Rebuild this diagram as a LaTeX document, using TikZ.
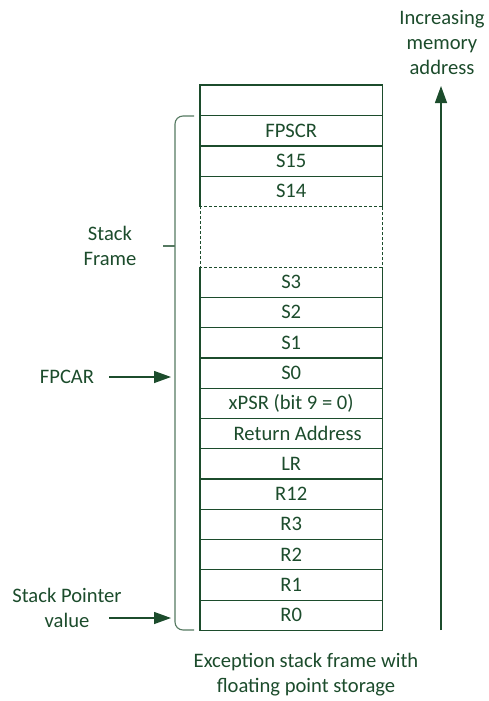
\documentclass[tikz,border=0pt]{standalone}
\usepackage{fontspec}
\setmainfont{Carlito}
\usetikzlibrary{arrows.meta}
\definecolor{dg}{RGB}{28,76,44}
\begin{document}
\begin{tikzpicture}[x=1pt,y=-1pt,
  every node/.style={text=dg,font=\fontsize{20.6}{25}\selectfont,inner sep=0pt},
  cell/.style={minimum width=182pt,minimum height=30.28pt,anchor=north west},
  boxline/.style={draw=dg,line width=1.2pt},
  dashline/.style={draw=dg,line width=0.9pt,dash pattern=on 3pt off 2pt},
  brk/.style={draw=dg!75,line width=1.1pt,rounded corners=8pt},
  arr/.style={draw=dg,line width=1.3pt,-{Triangle[length=17pt,width=12pt]}},
  lbl/.style={align=center}]
\useasboundingbox (0,0) rectangle (488,701);
% rows
\node[cell] (c0) at (200,85) {};
\node[cell] (c1) at (200,115.28) {FPSCR};
\node[cell] (c2) at (200,145.56) {S15};
\node[cell] (c3) at (200,175.84) {S14};
\node[cell,minimum height=60.56pt] (cd) at (200,206.12) {};
\node[cell] (c4) at (200,266.68) {S3};
\node[cell] (c5) at (200,296.96) {S2};
\node[cell] (c6) at (200,327.24) {S1};
\node[cell] (c7) at (200,357.52) {S0};
\node[cell] (c8) at (200,387.80) {xPSR (bit 9 = 0)};
\node[cell] (c9) at (200,418.08) {\hspace*{13pt}Return Address};
\node[cell] (c10) at (200,448.36) {LR};
\node[cell] (c11) at (200,478.64) {R12};
\node[cell] (c12) at (200,508.92) {R3};
\node[cell] (c13) at (200,539.20) {R2};
\node[cell] (c14) at (200,569.48) {R1};
\node[cell] (c15) at (200,599.76) {R0};
% solid column sides
\draw[boxline] (c3.south west) -- (c0.north west) -- (c0.north east) -- (c3.south east);
\draw[boxline] (c4.north west) -- (c15.south west) -- (c15.south east) -- (c4.north east);
\foreach \i in {0,1,2} \draw[boxline] (c\i.south west) -- (c\i.south east);
\foreach \i in {4,...,14} \draw[boxline] (c\i.south west) -- (c\i.south east);
% dashed region
\draw[dashline] (cd.north west) rectangle (cd.south east);
% bracket
\coordinate (bt) at (194,116);
\coordinate (bb) at (194,630);
\coordinate (tk) at (163,246);
\draw[brk] (bt) -- (175,116) -- (175,630) -- (bb);
\draw[draw=dg!75,line width=1.1pt] (tk) -- (175,246);
% labels left
\node[lbl] (sf) at (110,246) {Stack\\Frame};
\node (fp) at (67,377) {FPCAR};
\coordinate (fpend) at (171,377);
\draw[arr] ([xshift=15pt]fp.east) -- (fpend);
\node[lbl] (sp) at (67,608) {Stack Pointer\\value};
\coordinate (spend) at (171,618);
\draw[arr] (109,618) -- (spend);
% right arrow
\node[lbl] (ima) at (442,42) {Increasing\\memory\\address};
\coordinate (ab) at (441,630);
\coordinate (at) at (441,86);
\draw[arr] (ab) -- (at);
% caption
\node[lbl] (cap) at (306,675) {Exception stack frame with\\floating point storage};
\end{tikzpicture}
\end{document}
